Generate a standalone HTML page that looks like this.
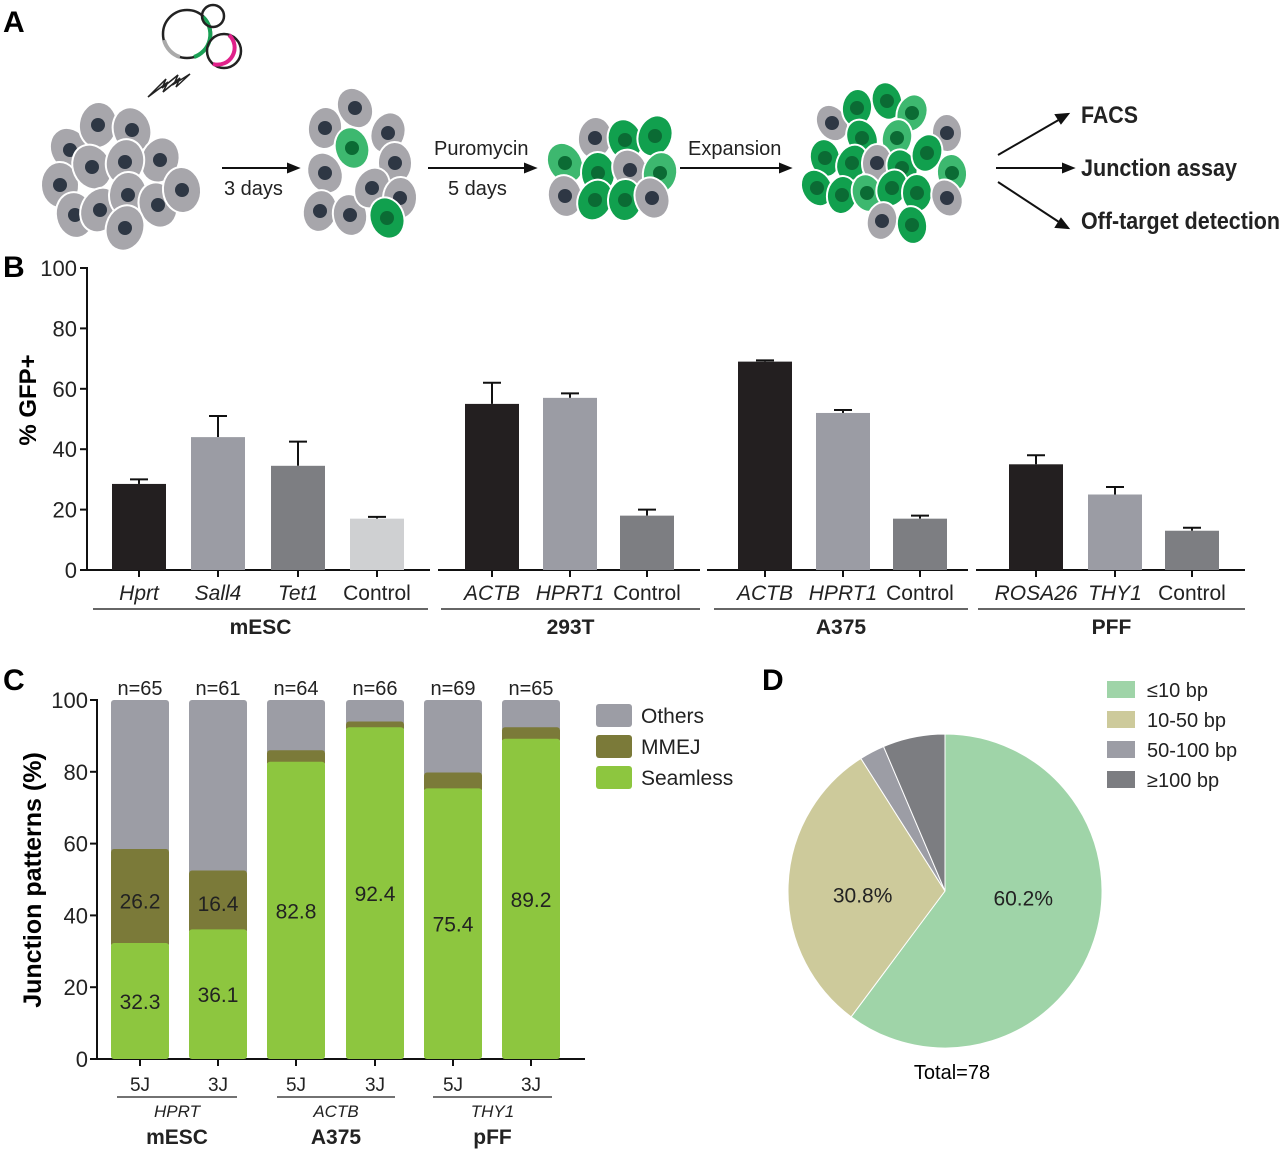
<!DOCTYPE html>
<html><head><meta charset="utf-8"><style>
html,body{margin:0;padding:0;background:#fff}
svg{display:block;font-family:"Liberation Sans",sans-serif}
</style></head><body>
<svg id="fig" width="1280" height="1149" viewBox="0 0 1280 1149" xmlns="http://www.w3.org/2000/svg">
<g id="panelA">
<text x="3" y="32" font-size="30" font-weight="bold">A</text>
<g fill="none" stroke-width="2.5">
<circle cx="187" cy="34" r="24" stroke="#222"/>
<path d="M203 17 A24 24 0 0 1 194 57" stroke="#1aa055" stroke-width="4"/>
<path d="M180 57 A24 24 0 0 1 164 40" stroke="#aaa" stroke-width="4"/>
<circle cx="213" cy="16" r="11" stroke="#222"/>
<circle cx="224" cy="51" r="17" stroke="#222"/>
<path d="M229 35 A17 17 0 0 1 213 64" stroke="#e0218a" stroke-width="4"/>
</g>
<path d="M148 97 L168 82 L163 92 L180 78 L176 87 L190 74 L174 84 L178 75 L162 88 L166 79 Z" fill="none" stroke="#222" stroke-width="1.5"/>
<g id="cells"></g>
<g stroke="#111" stroke-width="2" fill="#111">
<line x1="222" y1="168" x2="290" y2="168"/><path d="M298 168 L288 164 L288 172Z"/>
<line x1="428" y1="168" x2="527" y2="168"/><path d="M535 168 L525 164 L525 172Z"/>
<line x1="680" y1="168" x2="782" y2="168"/><path d="M790 168 L780 164 L780 172Z"/>
<line x1="998" y1="155" x2="1062" y2="118"/><path d="M1068 114 L1056 115 L1061 123Z"/>
<line x1="996" y1="168" x2="1065" y2="168"/><path d="M1073 168 L1063 164 L1063 172Z"/>
<line x1="998" y1="182" x2="1062" y2="224"/><path d="M1068 228 L1056 227 L1061 219Z"/>
</g>
<g font-size="20" fill="#222">
<text x="224" y="195">3 days</text>
<text x="434" y="155">Puromycin</text>
<text x="448" y="195">5 days</text>
<text x="688" y="155">Expansion</text>
</g>
<g font-size="24" font-weight="bold" fill="#222">
<text x="1081" y="123" textLength="57" lengthAdjust="spacingAndGlyphs">FACS</text>
<text x="1081" y="176" textLength="156" lengthAdjust="spacingAndGlyphs">Junction assay</text>
<text x="1081" y="229" textLength="199" lengthAdjust="spacingAndGlyphs">Off-target detection</text>
</g>
</g>
<g id="panelB">
<text x="3" y="277" font-size="30" font-weight="bold">B</text>
<text transform="translate(36,400) rotate(-90)" text-anchor="middle" font-size="24" font-weight="bold">% GFP+</text>
</g>
<g id="panelC">
<text x="3" y="690" font-size="30" font-weight="bold">C</text>
<text transform="translate(41,880) rotate(-90)" text-anchor="middle" font-size="25" font-weight="bold">Junction patterns (%)</text>
</g>
<g id="panelD">
<text x="762" y="690" font-size="30" font-weight="bold">D</text>
<text x="952" y="1079" text-anchor="middle" font-size="20">Total=78</text>
</g>
</svg>
<script>
// ---------- Panel B data ----------
const bCategories = ["Hprt","Sall4","Tet1","Control","ACTB","HPRT1","Control","ACTB","HPRT1","Control","ROSA26","THY1","Control"];
const bItalic = [true,true,true,false,true,true,false,true,true,false,true,true,false];
const bValues = [28.5,44,34.5,17,55,57,18,69,52,17,35,25,13];
const bErrors = [1.5,7,8,0.6,7,1.5,2,0.4,1,1,3,2.5,1];
const bGroups = ["mESC","293T","A375","PFF"];
const bGroupSizes = [4,3,3,3];
const bTicks = [0,20,40,60,80,100];
// ---------- Panel C data ----------
const cCategories = ["5J","3J","5J","3J","5J","3J"];
const cN = ["n=65","n=61","n=64","n=66","n=69","n=65"];
const cSeamless = [32.3,36.1,82.8,92.4,75.4,89.2];
const cMMEJ = [26.2,16.4,3.2,1.6,4.4,3.2];
const cGenes = ["HPRT","ACTB","THY1"];
const cCells = ["mESC","A375","pFF"];
const cTicks = [0,20,40,60,80,100];
// ---------- Panel D data ----------
const dLabels = ["≤10 bp","10-50 bp","50-100 bp","≥100 bp"];
const dValues = [60.2,30.8,2.6,6.4];
const dPrinted = ["60.2%","30.8%","",""];

const NS="http://www.w3.org/2000/svg";
function mk(tag,attrs,parent,txt){const e=document.createElementNS(NS,tag);for(const k in attrs)e.setAttribute(k,attrs[k]);if(txt!==undefined)e.textContent=txt;parent.appendChild(e);return e;}

// ----- Panel A cells (decorative) -----
const cellsG=document.getElementById('cells');
const clusters=[
 {cx:120,cy:170,g:0,cells:[[-50,-20],[-22,-45],[12,-40],[40,-10],[-60,15],[-28,-3],[5,-8],[-45,45],[-20,40],[8,25],[38,35],[5,58],[62,20]]},
 {cx:360,cy:163,g:1,cells:[[-5,-55],[-35,-35],[-8,-15],[28,-30],[35,0],[-35,10],[-40,48],[-10,52],[12,25],[40,35],[27,55]]},
 {cx:610,cy:168,g:2,cells:[[-45,-5],[-15,-30],[15,-28],[45,-32],[-12,5],[20,2],[50,5],[-45,28],[-15,32],[15,32],[42,30]]},
 {cx:887,cy:163,g:3,cells:[[-55,-40],[-30,-55],[0,-62],[25,-50],[60,-30],[-25,-25],[10,-25],[-62,-5],[-35,0],[-10,0],[15,5],[40,-10],[65,10],[-70,25],[-45,32],[-20,30],[5,25],[30,30],[60,35],[-5,58],[25,62]]}
];
clusters.forEach((cl,ci)=>{cl.cells.forEach((c,i)=>{
  let green=false,light=false;
  if(cl.g===1) green=(i===2||i===10), light=(i===2);
  if(cl.g===2) green=!(i===1||i===5||i===7||i===10), light=(i===0||i===6);
  if(cl.g===3) green=!(i===0||i===4||i===9||i===18||i===19), light=(i%3===0);
  const body=green?(light?'#3db86f':'#11a04e'):'#a7a6ab';
  const nuc=green?'#0b6b34':'#2e3744';
  const x=cl.cx+c[0],y=cl.cy+c[1];
  const rx=cl.g===0?19:(cl.g===3?15:17), ry=cl.g===0?23:(cl.g===3?19:21);
  const el=mk('ellipse',{cx:x,cy:y,rx:rx,ry:ry,fill:body,stroke:'#fff','stroke-width':2,transform:`rotate(${(i*37)%60-30} ${x} ${y})`},cellsG);
  
  
  const n=mk('circle',{cx:x,cy:y,r:7,fill:nuc},cellsG);
  
  
});});

// ----- Panel B -----
const pB=document.getElementById('panelB');
const bY0=570,bY100=268;
const yB=v=>bY0+(bY100-bY0)*v/100;
const bColors={g4:['#231f20','#9b9ca4','#7d7e82','#cfd0d2'],g3:['#231f20','#9b9ca4','#7d7e82']};
const bBarX=[112,191,271,350,465,543,620,738,816,893,1009,1088,1165];
const bW=54;
mk('line',{x1:87,y1:bY100-1,x2:87,y2:bY0+1,stroke:'#111','stroke-width':2},pB);
bTicks.forEach(t=>{
  mk('line',{x1:80,y1:yB(t),x2:87,y2:yB(t),stroke:'#111','stroke-width':2},pB);
  const tl=mk('text',{x:77,y:yB(t)+8,'text-anchor':'end','font-size':22,fill:'#222'},pB,String(t));
  
  
});
const segs=[[87,430],[438,700],[707,968],[976,1245]];
const ulines=[[93,428],[441,700],[714,968],[978,1245]];
segs.forEach(s=>mk('line',{x1:s[0],y1:bY0,x2:s[1],y2:bY0,stroke:'#111','stroke-width':2},pB));
let idx=0;
bGroupSizes.forEach((sz,gi)=>{
  const cols=sz===4?bColors.g4:bColors.g3;
  for(let k=0;k<sz;k++,idx++){
    const x=bBarX[idx],v=bValues[idx],e=bErrors[idx],cx=x+bW/2;
    const eb=mk('g',{},pB);
    
    
    mk('line',{x1:cx,y1:yB(v),x2:cx,y2:yB(v+e),stroke:'#111','stroke-width':2},eb);
    mk('line',{x1:cx-9,y1:yB(v+e),x2:cx+9,y2:yB(v+e),stroke:'#111','stroke-width':2},eb);
    const r=mk('rect',{x:x,y:yB(v),width:bW,height:bY0-yB(v),fill:cols[k]},pB);
    
    
    mk('line',{x1:cx,y1:bY0,x2:cx,y2:bY0+7,stroke:'#111','stroke-width':2},pB);
    const t=mk('text',{x:cx,y:600,'text-anchor':'middle','font-size':21,'font-style':bItalic[idx]?'italic':'normal',fill:'#222'},pB,bCategories[idx]);
    
    
  }
  const u=ulines[gi];
  mk('line',{x1:u[0],y1:609,x2:u[1],y2:609,stroke:'#333','stroke-width':1.5},pB);
  const gt=mk('text',{x:(u[0]+u[1])/2,y:634,'text-anchor':'middle','font-size':21,'font-weight':'bold',fill:'#222'},pB,bGroups[gi]);
  
  
});

// ----- Panel C -----
const pC=document.getElementById('panelC');
const cY0=1059,cY100=700;
const yC=v=>cY0+(cY100-cY0)*v/100;
const cBarX=[111,189,267,346,424,502];const cW=58;
const cCol={s:'#8dc63f',m:'#7b7a39',o:'#9c9da5'};
mk('line',{x1:97,y1:cY100-1,x2:97,y2:cY0+1,stroke:'#111','stroke-width':2},pC);
mk('line',{x1:97,y1:cY0,x2:585,y2:cY0,stroke:'#111','stroke-width':2},pC);
cTicks.forEach(t=>{
  mk('line',{x1:90,y1:yC(t),x2:97,y2:yC(t),stroke:'#111','stroke-width':2},pC);
  const tl=mk('text',{x:88,y:yC(t)+8,'text-anchor':'end','font-size':22,fill:'#222'},pC,String(t));
  
  
});
cCategories.forEach((c,i)=>{
  const x=cBarX[i],cx=x+cW/2,s=cSeamless[i],m=cMMEJ[i];
  const ro=mk('rect',{x:x,y:yC(100),width:cW,height:yC(s+m)-yC(100)+4,rx:3,fill:cCol.o},pC);
  
  
  const rm=mk('rect',{x:x,y:yC(s+m),width:cW,height:yC(s)-yC(s+m)+4,rx:3,fill:cCol.m},pC);
  
  
  const rs=mk('rect',{x:x,y:yC(s),width:cW,height:cY0-yC(s),rx:3,fill:cCol.s},pC);
  
  
  const st=mk('text',{x:cx,y:yC(s/2)+8,'text-anchor':'middle','font-size':21,fill:'#222'},pC,s.toFixed(1));
  
  
  if(m>10){
    const mt=mk('text',{x:cx,y:yC(s+m*0.45)+8,'text-anchor':'middle','font-size':21,fill:'#222'},pC,m.toFixed(1));
    
    
  }
  const nt=mk('text',{x:cx,y:695,'text-anchor':'middle','font-size':20,fill:'#222'},pC,cN[i]);
  
  
  mk('line',{x1:cx,y1:cY0,x2:cx,y2:cY0+7,stroke:'#111','stroke-width':2},pC);
  const ct=mk('text',{x:cx,y:1091,'text-anchor':'middle','font-size':19,fill:'#222'},pC,c);
  
  
});
const cU=[[117,237],[277,395],[433,552]];
cGenes.forEach((g,i)=>{
  const u=cU[i],mx=(u[0]+u[1])/2;
  mk('line',{x1:u[0],y1:1097,x2:u[1],y2:1097,stroke:'#444','stroke-width':1.5},pC);
  const gt=mk('text',{x:mx,y:1117,'text-anchor':'middle','font-size':17,'font-style':'italic',fill:'#222'},pC,g);
  
  
  const ct=mk('text',{x:mx,y:1144,'text-anchor':'middle','font-size':21,'font-weight':'bold',fill:'#222'},pC,cCells[i]);
  
  
});
const cLeg=[["Others",cCol.o],["MMEJ",cCol.m],["Seamless",cCol.s]];
cLeg.forEach((l,i)=>{
  const g=mk('g',{},pC);
  
  
  mk('rect',{x:596,y:704+i*31,width:36,height:23,rx:3,fill:l[1]},g);
  mk('text',{x:641,y:723+i*31,'font-size':21,fill:'#222'},g,l[0]);
});

// ----- Panel D -----
const pD=document.getElementById('panelD');
const dCol=['#9fd4a8','#cdca9b','#9c9da5','#7c7d81'];
const pcx=945,pcy=891,pr=157;
const total=dValues.reduce((a,b)=>a+b,0);
let ang=0;
dValues.forEach((v,i)=>{
  const a0=ang,a1=ang+v/total*2*Math.PI;ang=a1;
  const p=a=>[pcx+pr*Math.sin(a),pcy-pr*Math.cos(a)];
  const s=p(a0),e=p(a1),large=(a1-a0)>Math.PI?1:0;
  const path=mk('path',{d:`M${pcx} ${pcy} L${s[0]} ${s[1]} A${pr} ${pr} 0 ${large} 1 ${e[0]} ${e[1]} Z`,fill:dCol[i],stroke:'#fff','stroke-width':1},pD);
  
  
  if(dPrinted[i]){
    const m=(a0+a1)/2,rr=pr*0.5;
    const t=mk('text',{x:pcx+rr*Math.sin(m)*1.05,y:pcy-rr*Math.cos(m)*0.1+12,'text-anchor':'middle','font-size':21,fill:'#222'},pD,dPrinted[i]);
    
    
  }
  const g=mk('g',{},pD);
  
  
  mk('rect',{x:1107,y:681+i*30,width:28,height:17,fill:dCol[i]},g);
  mk('text',{x:1147,y:697+i*30,'font-size':20,fill:'#222'},g,dLabels[i]);
});
</script>
</body></html>
